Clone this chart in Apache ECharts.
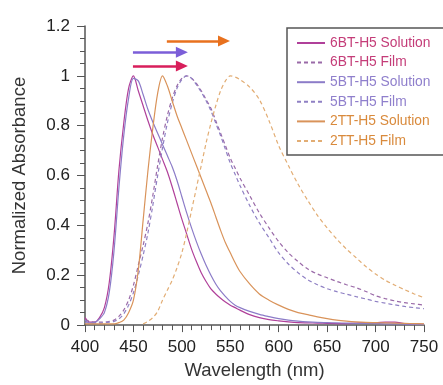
<!DOCTYPE html>
<html>
<head>
<meta charset="utf-8">
<script src="https://cdn.jsdelivr.net/npm/echarts@6/dist/echarts.min.js"></script>
<style>
  html, body { margin: 0; padding: 0; background: #fff; }
  #chart { width: 443px; height: 385px; }
</style>
</head>
<body>
<div id="chart"></div>
<script>
// wavelength grid (nm)
const wavelengths = [400, 405, 410, 415, 420, 425, 430, 435, 440, 445, 450, 455, 460, 465, 470, 475,
  480, 485, 490, 495, 500, 505, 510, 515, 520, 525, 530, 535, 540, 545, 550, 555, 560,
  570, 580, 590, 600, 610, 620, 630, 640, 650, 660, 670, 680, 690, 700, 710, 720, 730, 740, 750];

// normalized absorbance
const sol6 = [0.03, 0.012, 0.012, 0.03, 0.07, 0.17, 0.36, 0.62, 0.81, 0.95, 1.0, 0.94, 0.88, 0.82, 0.765, 0.715,
  0.665, 0.615, 0.555, 0.49, 0.425, 0.365, 0.305, 0.255, 0.21, 0.175, 0.145, 0.125, 0.108, 0.093, 0.08, 0.07, 0.06,
  0.042, 0.03, 0.022, 0.017, 0.013, 0.01, 0.009, 0.008, 0.007, 0.006, 0.006, 0.008, 0.01, 0.01, 0.012, 0.012, 0.006, 0.004, 0.003];
const film6 = [0.02, 0.015, 0.012, 0.012, 0.012, 0.015, 0.02, 0.035, 0.06, 0.1, 0.16, 0.24, 0.32, 0.41, 0.52, 0.64,
  0.75, 0.84, 0.91, 0.96, 0.99, 1.0, 0.99, 0.97, 0.94, 0.905, 0.87, 0.82, 0.77, 0.72, 0.67, 0.63, 0.59,
  0.52, 0.45, 0.39, 0.335, 0.29, 0.255, 0.225, 0.205, 0.19, 0.175, 0.162, 0.15, 0.135, 0.118, 0.106, 0.097, 0.09, 0.085, 0.08];
const sol5 = [0.02, 0.008, 0.01, 0.025, 0.05, 0.13, 0.3, 0.55, 0.76, 0.91, 0.99, 0.98, 0.925, 0.865, 0.815, 0.77,
  0.725, 0.68, 0.635, 0.58, 0.515, 0.45, 0.39, 0.335, 0.285, 0.24, 0.2, 0.165, 0.137, 0.115, 0.095, 0.08, 0.07,
  0.055, 0.043, 0.034, 0.026, 0.02, 0.016, 0.013, 0.011, 0.01, 0.009, 0.008, 0.007, 0.007, 0.006, 0.005, 0.005, 0.004, 0.003, 0.003];
const film5 = [0.01, 0.008, 0.008, 0.008, 0.01, 0.012, 0.015, 0.025, 0.045, 0.08, 0.13, 0.2, 0.28, 0.37, 0.48, 0.6,
  0.71, 0.81, 0.89, 0.95, 0.985, 1.0, 0.99, 0.965, 0.935, 0.9, 0.86, 0.81, 0.76, 0.705, 0.65, 0.605, 0.56,
  0.48, 0.41, 0.35, 0.29, 0.245, 0.21, 0.182, 0.162, 0.146, 0.134, 0.124, 0.114, 0.105, 0.095, 0.088, 0.081, 0.075, 0.07, 0.066];
const sol2 = [0.005, 0.005, 0.005, 0.005, 0.005, 0.005, 0.005, 0.01, 0.02, 0.05, 0.1, 0.22, 0.42, 0.62, 0.79, 0.93,
  1.0, 0.96, 0.9, 0.84, 0.79, 0.74, 0.69, 0.64, 0.59, 0.54, 0.49, 0.435, 0.38, 0.33, 0.29, 0.25, 0.215,
  0.165, 0.125, 0.1, 0.08, 0.063, 0.05, 0.042, 0.033, 0.026, 0.02, 0.016, 0.013, 0.011, 0.01, 0.009, 0.008, 0.007, 0.006, 0.005];
const film2 = [null, null, null, null, null, null, null, null, null, null, null, null, 0.005, 0.015, 0.03, 0.055,
  0.1, 0.14, 0.18, 0.23, 0.29, 0.37, 0.46, 0.55, 0.64, 0.73, 0.81, 0.88, 0.94, 0.98, 1.0, 0.995, 0.985,
  0.955, 0.905, 0.82, 0.72, 0.64, 0.565, 0.5, 0.44, 0.39, 0.345, 0.305, 0.27, 0.235, 0.205, 0.18, 0.16, 0.142, 0.125, 0.11];

const seriesNames = ['6BT-H5 Solution', '6BT-H5 Film', '5BT-H5 Solution', '5BT-H5 Film', '2TT-H5 Solution', '2TT-H5 Film'];
const seriesValues = [sol6, film6, sol5, film5, sol2, film2];

// red-shift arrows (solution peak -> film peak), [startX, endX, y] in data units
const arrowOrange = [484.5, 543.5, 1.14];
const arrowPurple = [449.5, 500, 1.095];
const arrowRed = [449.5, 500, 1.04];

const lineColors = ['#b0409a', '#9a6aa8', '#8c7cc8', '#8f80c4', '#d9935a', '#e2ad74'];
const textColors = ['#c43c78', '#c43c78', '#8f7fcc', '#8f7fcc', '#d98a3c', '#d98a3c'];
const FONT = 'Liberation Sans, Arial, sans-serif';

const arrowLine = (a, color) => ({
  silent: true,
  symbol: ['none', 'triangle'],
  symbolSize: [11, 12],
  label: { show: false },
  lineStyle: { color: color, width: 2.5, type: 'solid' },
  itemStyle: { color: color },
  data: [[{ coord: [a[0], a[2]] }, { coord: [a[1], a[2]] }]],
});

const series = seriesNames.map((name, k) => {
  const s = {
    name: name,
    type: 'line',
    symbol: 'none',
    smooth: 0.3,
    data: wavelengths.map((w, i) => [w, seriesValues[k][i]]),
    lineStyle: {
      color: lineColors[k],
      width: 1.2,
      type: k % 2 === 1 ? [4, 3] : 'solid',
    },
    itemStyle: { color: lineColors[k] },
    z: 3,
  };
  if (k === 0) s.markLine = arrowLine(arrowRed, '#d81e5b');
  if (k === 2) s.markLine = arrowLine(arrowPurple, '#7b5ed8');
  if (k === 4) s.markLine = arrowLine(arrowOrange, '#e8711e');
  return s;
});

const chart = echarts.init(document.getElementById('chart'));
chart.setOption({
  animation: false,
  textStyle: { fontFamily: FONT },
  grid: { left: 85, right: 19, top: 26, bottom: 55 },
  legend: {
    orient: 'vertical',
    left: 287,
    top: 28,
    padding: [8, 14, 7, 9],
    itemWidth: 28,
    itemHeight: 14,
    itemGap: 5.6,
    itemStyle: { opacity: 0 },
    borderColor: '#555',
    borderWidth: 1.5,
    backgroundColor: '#fff',
    data: seriesNames.map((n, k) => ({
      name: n,
      textStyle: { color: textColors[k], fontSize: 13.8, fontFamily: FONT },
    })),
  },
  xAxis: {
    type: 'value',
    min: 400,
    max: 750,
    interval: 50,
    name: 'Wavelength (nm)',
    nameLocation: 'middle',
    nameGap: 34,
    nameTextStyle: { fontSize: 18.5, color: '#333', fontFamily: FONT },
    axisLine: { show: true, lineStyle: { color: '#555', width: 1.5 } },
    axisTick: { show: true, length: 7, lineStyle: { color: '#555' } },
    minorTick: { show: true, splitNumber: 5, length: 5, lineStyle: { color: '#555' } },
    axisLabel: { fontSize: 17, color: '#222', margin: 14, fontFamily: FONT },
    splitLine: { show: false },
  },
  yAxis: {
    type: 'value',
    min: 0,
    max: 1.2,
    interval: 0.2,
    name: 'Normalized Absorbance',
    nameLocation: 'middle',
    nameGap: 56,
    nameTextStyle: { fontSize: 18.5, color: '#333', fontFamily: FONT },
    axisLine: { show: true, lineStyle: { color: '#555', width: 1.5 } },
    axisTick: { show: true, length: 8, lineStyle: { color: '#555' } },
    minorTick: { show: true, splitNumber: 4, length: 5, lineStyle: { color: '#555' } },
    axisLabel: { fontSize: 17, color: '#222', margin: 15, fontFamily: FONT },
    splitLine: { show: false },
  },
  series: series,
});
</script>
</body>
</html>
